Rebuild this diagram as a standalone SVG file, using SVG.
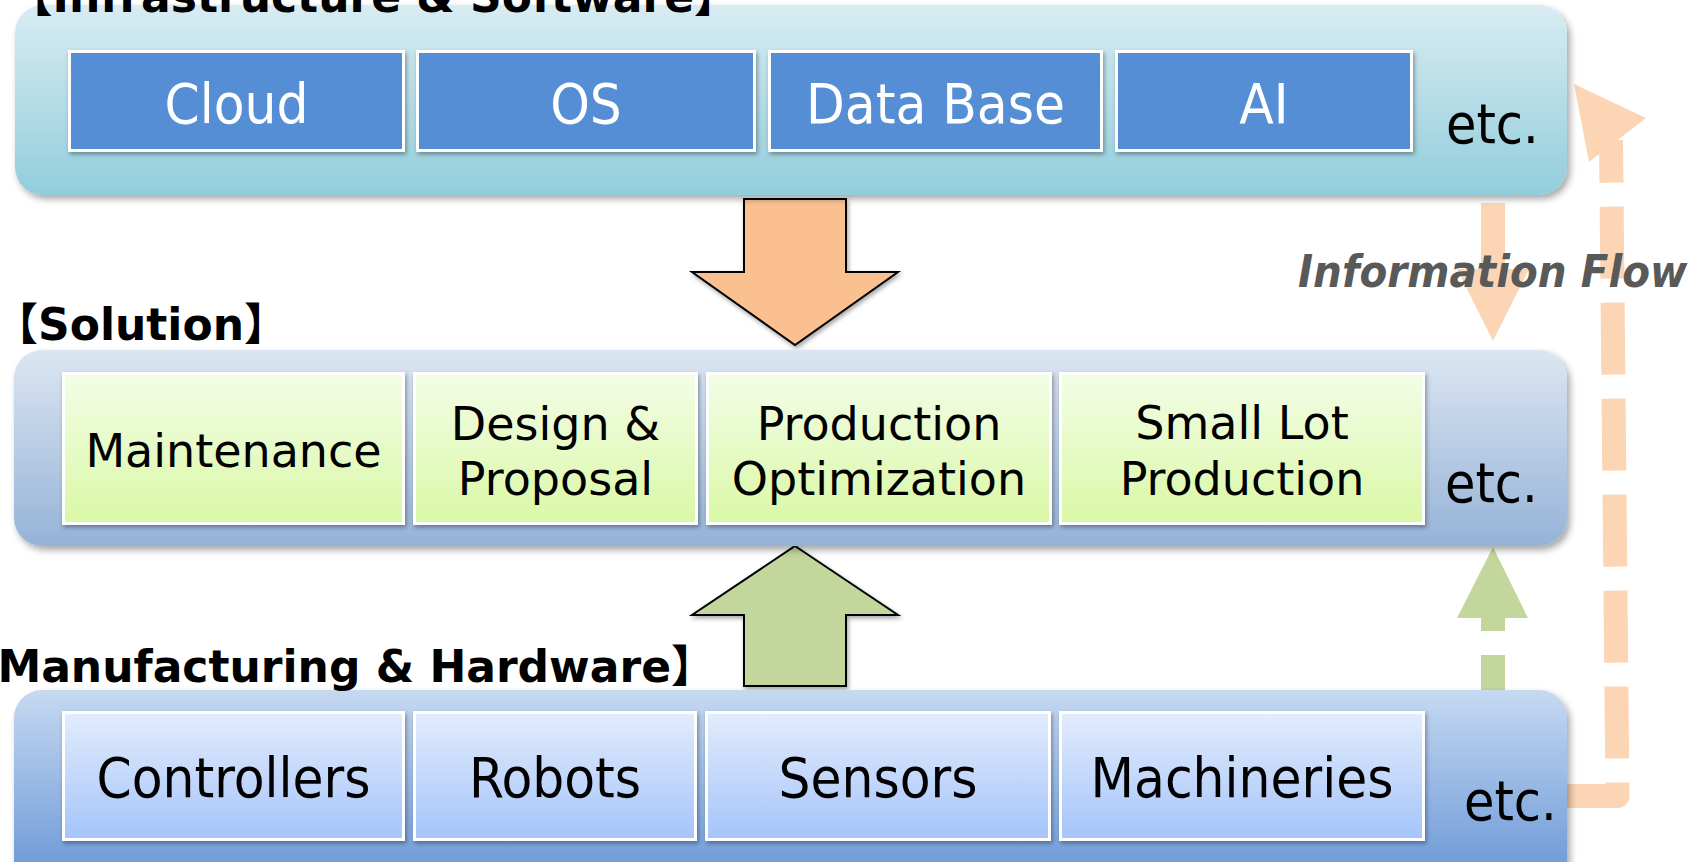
<svg xmlns="http://www.w3.org/2000/svg" width="1706" height="862" viewBox="0 0 1706 862">
  <defs>
    <linearGradient id="gTop" x1="0" y1="0" x2="0" y2="1">
      <stop offset="0" stop-color="#D8ECF2"/>
      <stop offset="1" stop-color="#92CDDC"/>
    </linearGradient>
    <linearGradient id="gMid" x1="0" y1="0" x2="0" y2="1">
      <stop offset="0" stop-color="#DCE6F2"/>
      <stop offset="1" stop-color="#95B3D7"/>
    </linearGradient>
    <linearGradient id="gBot" x1="0" y1="0" x2="0" y2="1">
      <stop offset="0" stop-color="#C6D9F1"/>
      <stop offset="1" stop-color="#5B8DD3"/>
    </linearGradient>
    <linearGradient id="gSol" x1="0" y1="0" x2="0" y2="1">
      <stop offset="0" stop-color="#F3FDE7"/>
      <stop offset="1" stop-color="#DAF8A6"/>
    </linearGradient>
    <linearGradient id="gHw" x1="0" y1="0" x2="0" y2="1">
      <stop offset="0" stop-color="#E2ECFC"/>
      <stop offset="1" stop-color="#A5C4FA"/>
    </linearGradient>
    <filter id="shadow" x="-5%" y="-10%" width="110%" height="130%">
      <feDropShadow dx="3" dy="4" stdDeviation="3.5" flood-color="#000" flood-opacity="0.35"/>
    </filter>
    <filter id="boxShadow" x="-5%" y="-10%" width="110%" height="130%">
      <feDropShadow dx="1.5" dy="2.5" stdDeviation="2" flood-color="#000" flood-opacity="0.35"/>
    </filter>
  </defs>
  <style>
    .panel { filter: url(#shadow); }
    .box { stroke: #FFFFFF; stroke-width: 3; filter: url(#boxShadow); }
    .sw { fill: #558ED5; }
    .sol { fill: url(#gSol); }
    .hw { fill: url(#gHw); }
    .lbl { font-family: "DejaVu Sans Condensed", "DejaVu Sans", sans-serif; font-size: 56px; text-anchor: middle; }
    .lblM { font-family: "DejaVu Sans", sans-serif; font-size: 46px; text-anchor: middle; fill: #000; }
    .etc { font-family: "DejaVu Sans Condensed", "DejaVu Sans", sans-serif; font-size: 55px; fill: #000; }
    .hdr { font-family: "DejaVu Sans", "Noto Sans CJK JP", sans-serif; font-size: 44px; font-weight: bold; fill: #000; text-anchor: end; }
    .flowTxt { font-family: "DejaVu Sans Condensed", "DejaVu Sans", sans-serif; font-size: 45px; font-weight: bold; font-style: italic; fill: #595959; }
    .bigArrow { stroke: #000; stroke-width: 2; stroke-linejoin: miter; filter: url(#boxShadow); }
    .peach { fill: #FCD5B5; }
    .green { fill: #C3D69B; }
  </style>

  <!-- information-flow loop runs behind the hardware layer -->
  <g id="connectors">
    <path d="M1559,796 L1617.5,796 L1611,140" fill="none" stroke="#FCD5B5" stroke-width="24" stroke-dasharray="72 24" stroke-linejoin="round"/>
    <polygon class="peach" points="1574,84 1646,118 1589,162"/>
    <!-- software to solution -->
    <polygon class="bigArrow" fill="#FAC090" points="744,199 846,199 846,272 898,272 795,345 692,272 744,272"/>
    <!-- hardware to solution -->
    <polygon class="bigArrow" fill="#C3D69B" points="795,546 898,615 846,615 846,686 744,686 744,615 692,615"/>
    <!-- small flow arrows on the right -->
    <polygon class="peach" points="1481,203 1505,203 1505,269 1529,269 1493,341 1457,269 1481,269"/>
    <polygon class="green" points="1493,547 1528,618 1505,618 1505,631 1481,631 1481,618 1457,618"/>
    <rect class="green" x="1481" y="655" width="24" height="35"/>
  </g>

  <!-- Infrastructure & Software layer -->
  <g id="layer-software">
    <rect class="panel" x="15" y="5" width="1552" height="190" rx="28" fill="url(#gTop)"/>
    <text class="hdr" x="738" y="12">【Infrastructure &amp; Software】</text>
  </g>
  <g id="node-cloud">
    <rect class="box sw" x="69.5" y="51.5" width="334" height="99"/>
    <text class="lbl" x="236.5" y="123" fill="#FFFFFF">Cloud</text>
  </g>
  <g id="node-os">
    <rect class="box sw" x="417.5" y="51.5" width="337" height="99"/>
    <text class="lbl" x="586" y="123" fill="#FFFFFF">OS</text>
  </g>
  <g id="node-database">
    <rect class="box sw" x="769.5" y="51.5" width="332" height="99"/>
    <text class="lbl" x="935.5" y="123" fill="#FFFFFF">Data Base</text>
  </g>
  <g id="node-ai">
    <rect class="box sw" x="1116.5" y="51.5" width="295" height="99"/>
    <text class="lbl" x="1264" y="123" fill="#FFFFFF">AI</text>
  </g>
  <text class="etc" x="1446" y="143">etc.</text>

  <!-- Solution layer -->
  <g id="layer-solution">
    <rect class="panel" x="14" y="350" width="1553" height="196" rx="28" fill="url(#gMid)"/>
    <text class="hdr" x="288" y="340">【Solution】</text>
  </g>
  <g id="node-maintenance">
    <rect class="box sol" x="63.5" y="373.5" width="340" height="150"/>
    <text class="lblM" x="233.5" y="467">Maintenance</text>
  </g>
  <g id="node-design">
    <rect class="box sol" x="414.5" y="373.5" width="282" height="150"/>
    <text class="lblM" x="555.5" y="440">Design &amp;</text>
    <text class="lblM" x="555.5" y="495">Proposal</text>
  </g>
  <g id="node-production">
    <rect class="box sol" x="707.5" y="373.5" width="343" height="150"/>
    <text class="lblM" x="879" y="440">Production</text>
    <text class="lblM" x="879" y="495">Optimization</text>
  </g>
  <g id="node-smalllot">
    <rect class="box sol" x="1060.5" y="373.5" width="363" height="150"/>
    <text class="lblM" x="1242" y="439">Small Lot</text>
    <text class="lblM" x="1242" y="495">Production</text>
  </g>
  <text class="etc" x="1445" y="502">etc.</text>

  <!-- Manufacturing & Hardware layer -->
  <g id="layer-hardware">
    <rect class="panel" x="14" y="690" width="1553" height="220" rx="28" fill="url(#gBot)"/>
    <text class="hdr" x="715" y="682">【Manufacturing &amp; Hardware】</text>
  </g>
  <g id="node-controllers">
    <rect class="box hw" x="63.5" y="712.5" width="340" height="127"/>
    <text class="lbl" x="233.5" y="797" fill="#000">Controllers</text>
  </g>
  <g id="node-robots">
    <rect class="box hw" x="414.5" y="712.5" width="281" height="127"/>
    <text class="lbl" x="555" y="797" fill="#000">Robots</text>
  </g>
  <g id="node-sensors">
    <rect class="box hw" x="706.5" y="712.5" width="343" height="127"/>
    <text class="lbl" x="878" y="797" fill="#000">Sensors</text>
  </g>
  <g id="node-machineries">
    <rect class="box hw" x="1060.5" y="712.5" width="363" height="127"/>
    <text class="lbl" x="1242" y="797" fill="#000">Machineries</text>
  </g>
  <text class="etc" x="1464" y="820">etc.</text>

  <text class="flowTxt" x="1298" y="287">Information Flow</text>
</svg>
